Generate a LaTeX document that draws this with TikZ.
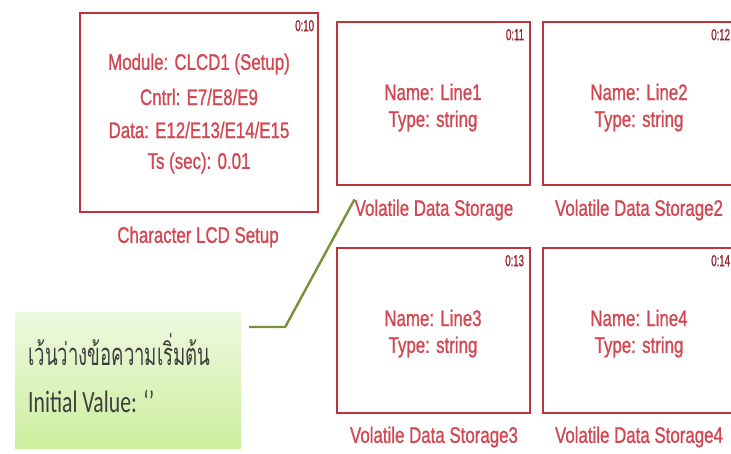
\documentclass[tikz,border=0pt]{standalone}
\usepackage{fontspec}
\setmainfont{Liberation Sans}
\newfontfamily\blockfont[FakeBold=1.2]{Liberation Sans}
\newfontfamily\thaifont[Script=Thai]{Loma}
\newfontfamily\carlito{Carlito}
\definecolor{boxred}{RGB}{188,52,62}
\definecolor{txtred}{RGB}{210,72,82}
\definecolor{idred}{RGB}{150,40,50}
\definecolor{notetop}{RGB}{238,249,224}
\definecolor{notebot}{RGB}{204,238,158}
\definecolor{leader}{RGB}{118,146,58}
\definecolor{notetxt}{RGB}{62,62,62}
\newcommand{\narrow}[1]{\scalebox{0.75}[1]{#1}}
\tikzset{
  blk/.style={draw=boxred, line width=2.4pt, inner sep=0pt},
  redtxt/.style={text=txtred, font=\blockfont\fontsize{22.5}{27}\selectfont, inner sep=0pt},
  idtxt/.style={text=idred, font=\blockfont\fontsize{16}{18}\selectfont, inner sep=0pt, anchor=north east},
  note/.style={top color=notetop, bottom color=notebot, draw=none, inner sep=0pt},
  notetext/.style={text=notetxt, inner sep=0pt, anchor=west},
  leaderline/.style={draw=leader, line width=2.4pt, line join=round}
}
\begin{document}
\begin{tikzpicture}[x=1pt,y=-1pt]
\useasboundingbox (0,0) rectangle (731,453);
\clip (0,0) rectangle (731,453);

% Character LCD setup block
\node[blk, minimum width=238, minimum height=199] (b10) at (199,112.5) {};
\node[idtxt] (id10) at ([shift={(-5,8)}]b10.north east) {\scalebox{0.6}[1]{0:10}};
\node[redtxt] (m1) at (199,64) {\narrow{Module: CLCD1 (Setup)}};
\node[redtxt] (m2) at (199,97) {\narrow{Cntrl: E7/E8/E9}};
\node[redtxt] (m3) at (199,130) {\narrow{Data: E12/E13/E14/E15}};
\node[redtxt] (m4) at (199,163) {\narrow{Ts (sec): 0.01}};
\node[redtxt] (l10) at (198,237) {\narrow{Character LCD Setup}};

% Volatile data storage blocks
\node[blk, minimum width=193, minimum height=163] (b11) at (433.5,103.5) {};
\node[blk, minimum width=193, minimum height=163] (b12) at (639.5,103.5) {};
\node[blk, minimum width=193, minimum height=165] (b13) at (433.5,330.5) {};
\node[blk, minimum width=193, minimum height=165] (b14) at (639.5,330.5) {};

\node[idtxt] (id11) at ([shift={(-7,8)}]b11.north east) {\scalebox{0.6}[1]{0:11}};
\node[idtxt] (id12) at ([shift={(-7,8)}]b12.north east) {\scalebox{0.6}[1]{0:12}};
\node[idtxt] (id13) at ([shift={(-7,8)}]b13.north east) {\scalebox{0.6}[1]{0:13}};
\node[idtxt] (id14) at ([shift={(-7,8)}]b14.north east) {\scalebox{0.6}[1]{0:14}};

\node[redtxt] (n11) at (433,92) {\narrow{Name: Line1}};
\node[redtxt] (t11) at (433,121) {\narrow{Type: string}};
\node[redtxt] (n12) at (639,92) {\narrow{Name: Line2}};
\node[redtxt] (t12) at (639,121) {\narrow{Type: string}};
\node[redtxt] (n13) at (433,318) {\narrow{Name: Line3}};
\node[redtxt] (t13) at (433,347) {\narrow{Type: string}};
\node[redtxt] (n14) at (639,318) {\narrow{Name: Line4}};
\node[redtxt] (t14) at (639,347) {\narrow{Type: string}};

\node[redtxt] (l11) at (434,210) {\narrow{Volatile Data Storage}};
\node[redtxt] (l12) at (639,210) {\narrow{Volatile Data Storage2}};
\node[redtxt] (l13) at (434,437) {\narrow{Volatile Data Storage3}};
\node[redtxt] (l14) at (639,437) {\narrow{Volatile Data Storage4}};

% Callout note
\node[note, minimum width=226, minimum height=136] (note) at (128,380) {};
\node[notetext] (nt1) at (28,350) {\thaifont\fontsize{31}{36}\selectfont\scalebox{0.6}[1]{เว้นว่างข้อความเริ่มต้น}};
\node[notetext] (nt2) at (28,401) {\carlito\fontsize{31}{36}\selectfont\scalebox{0.7}[1]{Initial Value: ‘’}};
\coordinate (lstart) at ([shift={(8,-53)}]note.east);
\coordinate (lbend) at ([xshift=36]lstart);
\draw[leaderline] (lstart) -- (lbend) -- (l11.north west);
\end{tikzpicture}
\end{document}
